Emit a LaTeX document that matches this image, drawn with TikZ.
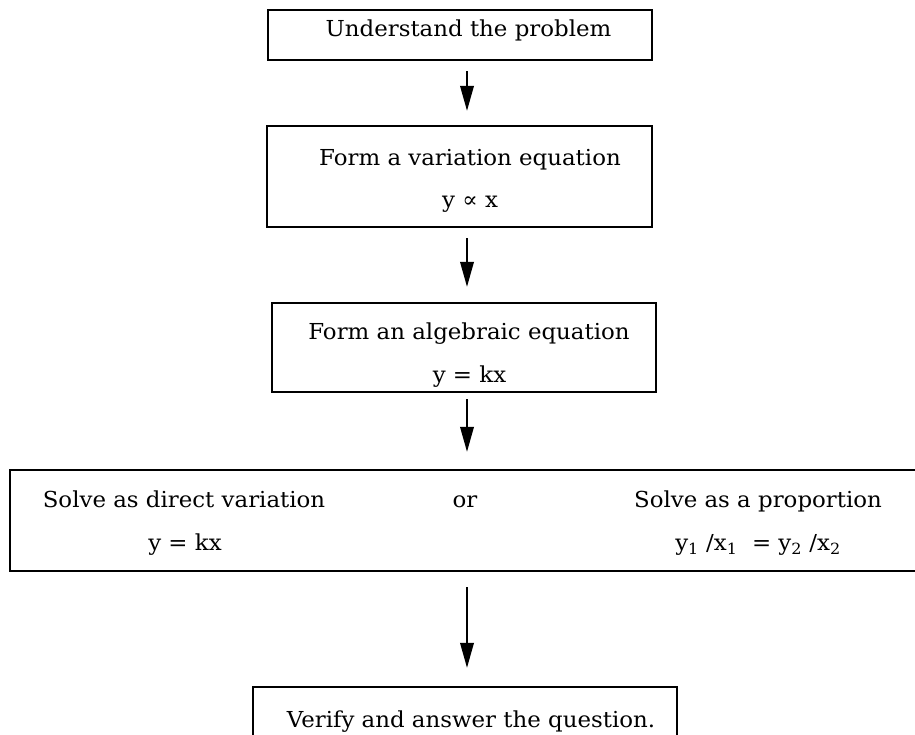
\documentclass[tikz,border=0pt]{standalone}
\usepackage{fontspec}
\setmainfont{DejaVu Serif}
\usetikzlibrary{arrows.meta}
\tikzset{
  box/.style={draw, line width=2.3pt, inner sep=0pt},
  txt/.style={anchor=base, inner sep=0pt, font=\fontsize{22}{26}\selectfont, xscale=1.04},
  arr/.style={line width=2pt, -{Triangle[length=25pt,width=13.5pt]}}
}
\begin{document}
\begin{tikzpicture}[x=1pt,y=-1pt]
\useasboundingbox (0,0) rectangle (915,734);
\clip (0,0) rectangle (915,734);
% boxes
\node[box, minimum width=384pt, minimum height=50pt] (b1) at (460,35) {};
\node[box, minimum width=385pt, minimum height=101pt] (b2) at (459.5,176.5) {};
\node[box, minimum width=384pt, minimum height=89pt] (b3) at (464,347.5) {};
\node[box, minimum width=906pt, minimum height=101pt] (b4) at (463,520.5) {};
\node[box, minimum width=424pt, minimum height=63pt] (b5) at (465,718.5) {};
% texts
\node[txt] (t1) at (468.5,36) {Understand the problem};
\node[txt] (t2a) at (470,165) {Form a variation equation};
\node[txt] (t2b) at (470,207) {y ∝ x};
\node[txt] (t3a) at (469,339) {Form an algebraic equation};
\node[txt] (t3b) at (469.5,382) {y = kx};
\node[txt] (t4a) at (184,507) {Solve as direct variation};
\node[txt] (t4b) at (185,550) {y = kx};
\node[txt] (t4c) at (465,507) {or};
\node[txt] (t4d) at (758,507) {Solve as a proportion};
\node[txt] (t4e) at (758,550) {y\textsubscript{1} /x\textsubscript{1}\ \ = y\textsubscript{2} /x\textsubscript{2}};
\node[txt] (t5) at (471,727) {Verify and answer the question.};
% arrows
\draw[arr, shorten <=10pt, shorten >=14pt] ([xshift=7pt]b1.south) -- ([xshift=7.5pt]b2.north);
\draw[arr, shorten <=10pt, shorten >=15pt] ([xshift=7.5pt]b2.south) -- ([xshift=3pt]b3.north);
\draw[arr, shorten <=6pt, shorten >=17pt] ([xshift=3pt]b3.south) -- ([xshift=4pt]b4.north);
\draw[arr, shorten <=15pt, shorten >=18pt] ([xshift=4pt]b4.south) -- ([xshift=2pt]b5.north);
\end{tikzpicture}
\end{document}
